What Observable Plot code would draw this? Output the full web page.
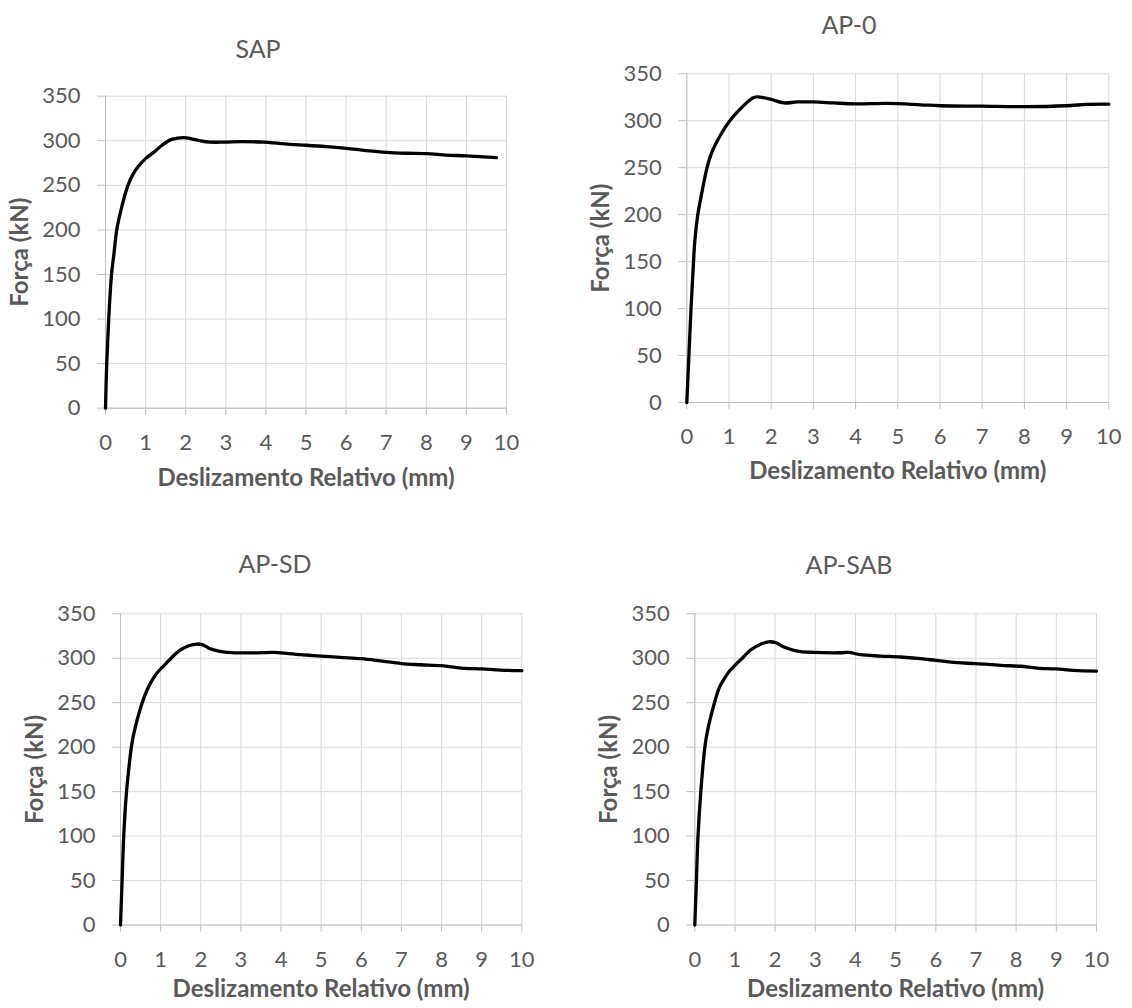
<!DOCTYPE html>
<html>
<head>
<meta charset="utf-8">
<script src="https://cdn.jsdelivr.net/npm/d3@7"></script>
<script src="https://cdn.jsdelivr.net/npm/@observablehq/plot@0.6"></script>
<style>
  html, body { margin: 0; padding: 0; background: #fff; }
  #wrap { position: relative; width: 1132px; height: 1008px; background: #fff; overflow: hidden; }
  #wrap svg { position: absolute; overflow: visible; }
  .ttl { position: absolute; font-family: Lato, "Open Sans", sans-serif; font-size: 25px; color: #595959; transform: translate(-50%, -50%); white-space: nowrap; line-height: 1; }
  g[aria-label="x-axis label"], g[aria-label="y-axis label"] { font-weight: 700; font-size: 24px; }
</style>
</head>
<body>
<div id="wrap"></div>
<script>
// ---- data ----
const xTicks = [0, 1, 2, 3, 4, 5, 6, 7, 8, 9, 10];
const yTicks = [0, 50, 100, 150, 200, 250, 300, 350];
const xLabel = "Deslizamento Relativo (mm)";
const yLabel = "Força (kN)";
const titles = ["SAP", "AP-0", "AP-SD", "AP-SAB"];

const sapX = [0, 0.03, 0.08, 0.15, 0.21, 0.28, 0.38, 0.47, 0.56, 0.68, 0.83, 1.00, 1.20, 1.41, 1.62, 1.80, 1.95, 2.12, 2.37, 2.62, 2.95, 3.40, 3.95, 4.10, 4.60, 5.00, 5.50, 6.00, 6.50, 7.00, 7.50, 8.00, 8.50, 9.00, 9.75];
const sapY = [0, 50, 100, 150, 173, 200, 221, 237, 250, 262, 272, 280, 287, 295, 301, 303, 303.5, 302.5, 300, 298.5, 298.5, 299, 298.5, 298, 296, 295, 293.5, 291.5, 289, 287, 286, 285.5, 284, 283, 281];

const ap0X = [0, 0.05, 0.10, 0.16, 0.19, 0.26, 0.32, 0.48, 0.58, 0.68, 0.84, 1.02, 1.15, 1.39, 1.55, 1.66, 1.98, 2.30, 2.61, 3.00, 3.48, 4.00, 4.75, 5.54, 6.00, 7.00, 8.00, 9.00, 9.49, 10];
const ap0Y = [0, 50, 100, 150, 172, 200, 215, 250, 265, 275, 288, 300, 307, 318, 324, 325.5, 323, 319, 320, 320, 319, 318, 318.5, 317, 316, 315.5, 315, 316, 317.5, 317.7];

const apsdX = [0, 0.04, 0.08, 0.15, 0.21, 0.27, 0.33, 0.54, 0.66, 0.77, 0.92, 1.09, 1.26, 1.45, 1.70, 1.90, 2.05, 2.22, 2.45, 2.66, 3.24, 3.82, 4.00, 4.49, 5.00, 5.48, 6.00, 6.48, 7.00, 7.48, 8.00, 8.50, 9.00, 9.47, 10];
const apsdY = [0, 50, 100, 150, 177, 200, 215, 250, 264, 274, 284, 292, 300, 308, 314, 316, 315, 311, 308, 306.6, 306, 306.6, 306, 304, 302.5, 301, 299.5, 297, 294, 292.7, 291.6, 289, 288, 286.7, 286];

const apsabX = [0, 0.04, 0.08, 0.15, 0.25, 0.31, 0.49, 0.61, 0.72, 0.87, 1.02, 1.18, 1.38, 1.65, 1.84, 2.02, 2.22, 2.55, 2.96, 3.63, 3.83, 4.12, 4.62, 5.12, 5.62, 6.00, 6.53, 7.00, 7.61, 8.11, 8.52, 9.00, 9.44, 10];
const apsabY = [0, 50, 100, 150, 200, 217, 250, 267, 276, 286, 293, 300, 309, 316, 318.5, 317.5, 312.6, 308, 306.6, 306.2, 306.6, 304, 302.5, 301.4, 299.5, 297.6, 295, 294, 292, 291, 289, 288, 286.4, 285.6];

// ---- layout ----
const panels = [
  {X: sapX, Y: sapY, left: 0, top: 0, ml: 105, mr: 60, mt: 95.7, mb: 96.3, lo: 78, title: titles[0], tx: 258, ty: 48},
  {X: ap0X, Y: ap0Y, left: 566, top: 0, ml: 120.3, mr: 23.7, mt: 73.3, mb: 102, lo: 76, title: titles[1], tx: 849, ty: 24},
  {X: apsdX, Y: apsdY, left: 0, top: 504, ml: 120, mr: 44.7, mt: 109.3, mb: 83.5, lo: 72, title: titles[2], tx: 275, ty: 563},
  {X: apsabX, Y: apsabY, left: 566, top: 504, ml: 128.3, mr: 36, mt: 109.3, mb: 83.5, lo: 72, title: titles[3], tx: 849, ty: 564}
];

const wrap = document.getElementById("wrap");
const gridColor = "#d9d9d9";
const axisColor = "#bfbfbf";

for (const p of panels) {
  const rows = p.X.map((x, i) => ({x, y: p.Y[i]}));
  const svg = Plot.plot({
    width: 566,
    height: 504,
    marginLeft: p.ml,
    marginRight: p.mr,
    marginTop: p.mt,
    marginBottom: p.mb,
    style: {fontFamily: "Lato, 'Open Sans', sans-serif", fontSize: "22px", color: "#595959", background: "transparent", overflow: "visible"},
    x: {domain: [0, 10]},
    y: {domain: [0, 350]},
    marks: [
      Plot.gridX(xTicks, {stroke: gridColor, strokeOpacity: 1, strokeWidth: 1}),
      Plot.gridY(yTicks, {stroke: gridColor, strokeOpacity: 1, strokeWidth: 1}),
      Plot.ruleX([0], {stroke: axisColor, strokeWidth: 1}),
      Plot.ruleY([0], {stroke: axisColor, strokeWidth: 1}),
      Plot.axisX(xTicks, {tickSize: 7, tickPadding: 19, stroke: axisColor, label: xLabel, labelAnchor: "center", labelOffset: p.lo, labelArrow: "none"}),
      Plot.axisY(yTicks, {tickSize: 8, tickPadding: 17, stroke: axisColor, label: yLabel, labelAnchor: "center", labelOffset: 95, labelArrow: "none"}),
      Plot.line(rows, {x: "x", y: "y", stroke: "#000", strokeWidth: 3.3, curve: "catmull-rom"})
    ]
  });
  svg.style.left = p.left + "px";
  svg.style.top = p.top + "px";
  wrap.appendChild(svg);

  const t = document.createElement("div");
  t.className = "ttl";
  t.textContent = p.title;
  t.style.left = p.tx + "px";
  t.style.top = p.ty + "px";
  wrap.appendChild(t);
}
</script>
</body>
</html>
